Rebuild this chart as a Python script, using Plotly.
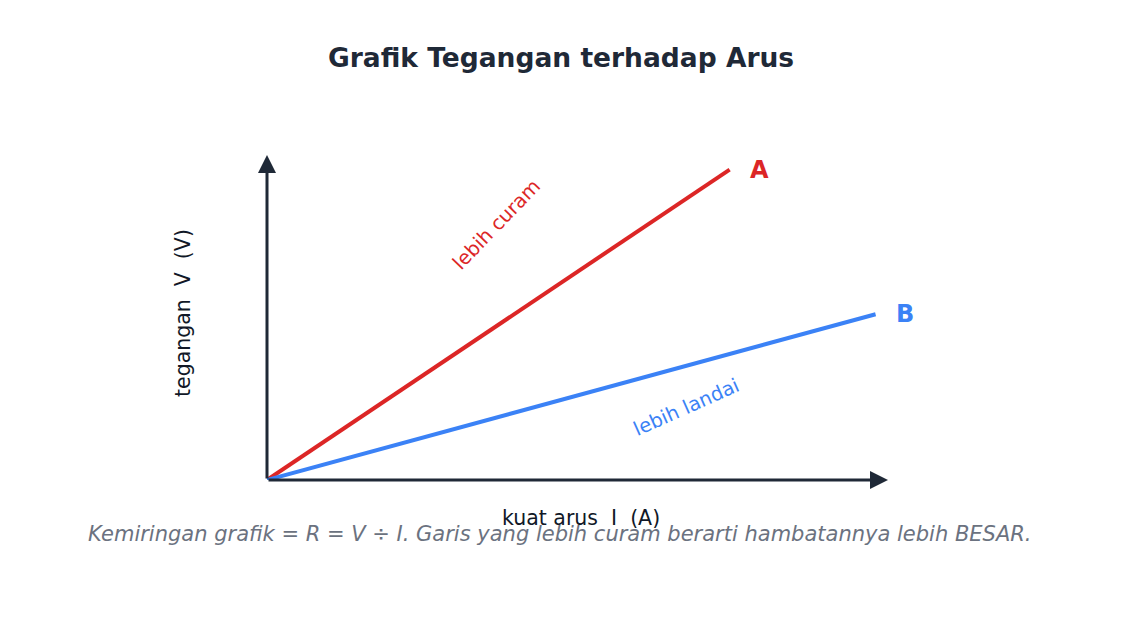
import plotly.graph_objects as go

# data: kuat arus (A) dan tegangan (V) untuk dua penghambat
arus_a = [0, 7.45]
tegangan_a = [0, 9.55]
arus_b = [0, 9.8]
tegangan_b = [0, 5.1]

x_max = 10
y_max = 10

merah = "#dc2626"
biru = "#3b82f6"
gelap = "#1f2937"
font = "DejaVu Sans"

fig = go.Figure()
fig.add_trace(go.Scatter(x=arus_a, y=tegangan_a, mode="lines",
                         line=dict(color=merah, width=4), hoverinfo="skip"))
fig.add_trace(go.Scatter(x=arus_b, y=tegangan_b, mode="lines",
                         line=dict(color=biru, width=4), hoverinfo="skip"))

# sumbu dengan panah
for tx, ty in [(x_max, 0), (0, y_max)]:
    fig.add_annotation(x=tx, y=ty, ax=0, ay=0, xref="x", yref="y",
                       axref="x", ayref="y", text="", showarrow=True,
                       arrowhead=2, arrowsize=1.2, arrowwidth=3,
                       arrowcolor=gelap)

# label garis
fig.add_annotation(x=arus_a[-1], y=tegangan_a[-1], text="<b>A</b>",
                   showarrow=False, xanchor="left", xshift=18,
                   font=dict(family=font, size=24, color=merah))
fig.add_annotation(x=arus_b[-1], y=tegangan_b[-1], text="<b>B</b>",
                   showarrow=False, xanchor="left", xshift=18,
                   font=dict(family=font, size=24, color=biru))
fig.add_annotation(x=3.7, y=7.85, text="lebih curam", showarrow=False,
                   textangle=-46, font=dict(family=font, size=19.5, color=merah))
fig.add_annotation(x=6.75, y=2.22, text="lebih landai", showarrow=False,
                   textangle=-24, font=dict(family=font, size=19.5, color=biru))


# teks memakai posisi piksel halaman, diubah ke koordinat paper
def px(x, y):
    return (x - 267) / (888 - 267), (480 - y) / (480 - 155)


for teks, (cx, cy), size, warna, sudut in [
    ("<b>Grafik Tegangan terhadap Arus</b>", (561, 57), 26.5, gelap, 0),
    ("kuat arus  I  (A)", (581, 518), 20.5, "#111827", 0),
    ("tegangan  V  (V)", (183, 313), 20.5, "#111827", -90),
    ("<i>Kemiringan grafik = R = V ÷ I. Garis yang lebih curam berarti hambatannya lebih BESAR.</i>",
     (560, 534), 21, "#6b7280", 0),
]:
    ux, uy = px(cx, cy)
    fig.add_annotation(x=ux, y=uy, xref="paper", yref="paper", text=teks,
                       showarrow=False, textangle=sudut,
                       xanchor="center", yanchor="middle",
                       font=dict(family=font, size=size, color=warna))

fig.update_layout(
    width=1121, height=629,
    margin=dict(l=259, r=241, t=147, b=157),
    paper_bgcolor="white", plot_bgcolor="white",
    showlegend=False,
    xaxis=dict(range=[0, x_max], visible=False),
    yaxis=dict(range=[0, y_max], visible=False),
)

fig.write_html("out.html")
